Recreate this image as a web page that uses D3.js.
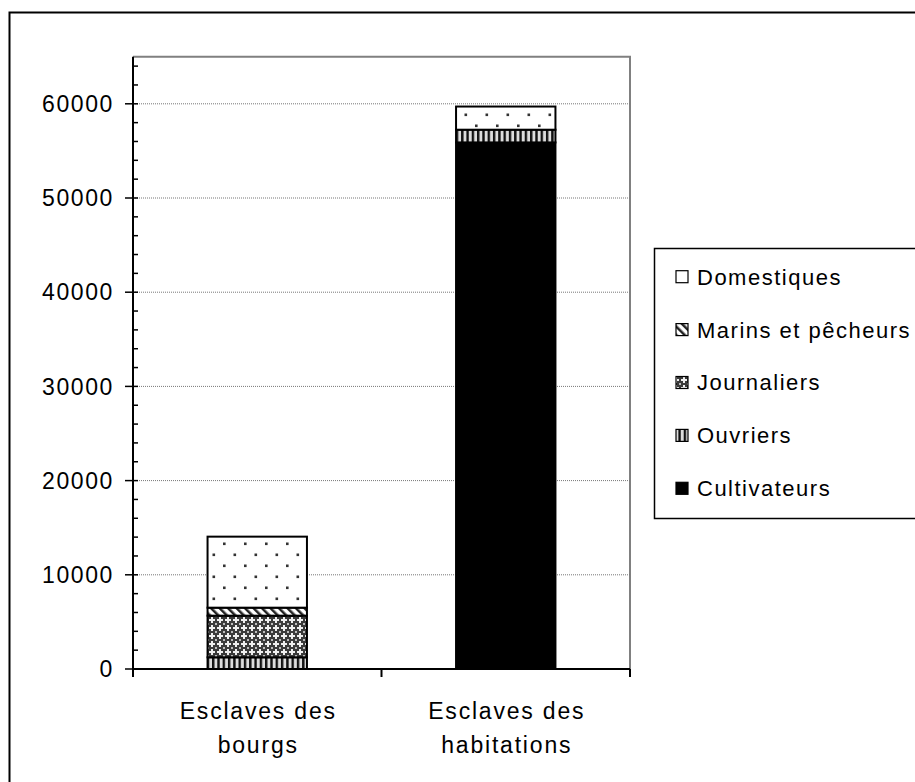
<!DOCTYPE html>
<html><head><meta charset="utf-8">
<script src="https://cdn.jsdelivr.net/npm/d3@7"></script>
<style>body{margin:0;background:#fff}svg{display:block}text{font-family:"Liberation Sans",Arial,sans-serif;fill:#000}</style>
</head><body>
<script>
const categories = [["Esclaves des","bourgs"],["Esclaves des","habitations"]];
const seriesNames = ["Cultivateurs","Ouvriers","Journaliers","Marins et pêcheurs","Domestiques"];
const cultivateurs = [0, 55900];
const ouvriers = [1240, 1350];
const journaliers = [4420, 0];
const marins = [850, 0];
const domestiques = [7540, 2460];
const yTicks = [0,10000,20000,30000,40000,50000,60000];

const W=915,H=782;
const svg=d3.select("body").append("svg").attr("width",W).attr("height",H);
const defs=svg.append("defs");
// patterns
const pDom=defs.append("pattern").attr("id","pDom").attr("patternUnits","userSpaceOnUse").attr("width",21).attr("height",22).attr("x",208).attr("y",0);
pDom.append("rect").attr("width",21).attr("height",22).attr("fill","#fff");
pDom.append("rect").attr("x",4.5).attr("y",3.5).attr("width",2.6).attr("height",2.6).attr("fill","#333");
pDom.append("rect").attr("x",15).attr("y",14.5).attr("width",2.6).attr("height",2.6).attr("fill","#333");
const pMar=defs.append("pattern").attr("id","pMar").attr("patternUnits","userSpaceOnUse").attr("width",6).attr("height",6).attr("patternTransform","rotate(-45)");
pMar.append("rect").attr("width",6).attr("height",6).attr("fill","#fff");
pMar.append("rect").attr("width",2.5).attr("height",6).attr("fill","#222");
const pJou=defs.append("pattern").attr("id","pJou").attr("patternUnits","userSpaceOnUse").attr("width",8).attr("height",8);
pJou.append("rect").attr("width",8).attr("height",8).attr("fill","#3a3a3a");
pJou.append("rect").attr("x",3).attr("y",1).attr("width",2).attr("height",6).attr("fill","#eee");
pJou.append("rect").attr("x",1).attr("y",3).attr("width",6).attr("height",2).attr("fill","#eee");
pJou.append("rect").attr("x",-1).attr("y",-1).attr("width",2).attr("height",2).attr("fill","#bbb");
pJou.append("rect").attr("x",7).attr("y",7).attr("width",2).attr("height",2).attr("fill","#bbb");
pJou.append("rect").attr("x",7).attr("y",-1).attr("width",2).attr("height",2).attr("fill","#bbb");
pJou.append("rect").attr("x",-1).attr("y",7).attr("width",2).attr("height",2).attr("fill","#bbb");
const pOuv=defs.append("pattern").attr("id","pOuv").attr("patternUnits","userSpaceOnUse").attr("width",5.3).attr("height",10);
pOuv.append("rect").attr("width",5.3).attr("height",10).attr("fill","#ddd");
pOuv.append("rect").attr("width",2.4).attr("height",10).attr("fill","#111");
const fills={"Cultivateurs":"#000","Ouvriers":"url(#pOuv)","Journaliers":"url(#pJou)","Marins et pêcheurs":"url(#pMar)","Domestiques":"url(#pDom)"};

// outer border
svg.append("rect").attr("x",9.5).attr("y",12.5).attr("width",W+20).attr("height",H+20).attr("fill","none").attr("stroke","#000").attr("stroke-width",2);

const L=133,R=630,T=56.7,B=669;
const x=d3.scaleBand().domain([0,1]).range([L,R]).paddingInner(0.6).paddingOuter(0.3);
const y=d3.scaleLinear().domain([0,65000]).range([B,T]);

// plot frame
svg.append("path").attr("d",`M${L},${T}H${R}V${B}`).attr("fill","none").attr("stroke","#808080").attr("stroke-width",2);
// gridlines
svg.append("g").selectAll("line").data(yTicks.filter(d=>d>0)).join("line")
 .attr("x1",L).attr("x2",R).attr("y1",d=>y(d)).attr("y2",d=>y(d))
 .attr("stroke","#777").attr("stroke-width",1).attr("stroke-dasharray","1,1");

// stacks
const data=[0,1].map(i=>({i,"Cultivateurs":cultivateurs[i],"Ouvriers":ouvriers[i],"Journaliers":journaliers[i],"Marins et pêcheurs":marins[i],"Domestiques":domestiques[i]}));
const stack=d3.stack().keys(seriesNames)(data);
const g=svg.append("g");
stack.forEach(s=>{
  g.selectAll(null).data(s.filter(d=>d[1]-d[0]>0)).join("rect")
   .attr("x",d=>x(d.data.i)).attr("width",x.bandwidth())
   .attr("y",d=>y(d[1])).attr("height",d=>y(d[0])-y(d[1]))
   .attr("fill",fills[s.key]).attr("stroke","#000").attr("stroke-width",2);
});

// y axis
const minor=d3.range(0,65001,2000);
const ya=svg.append("g");
ya.selectAll("line.mn").data(minor).join("line").attr("x1",L).attr("x2",L+5).attr("y1",d=>y(d)).attr("y2",d=>y(d)).attr("stroke","#000").attr("stroke-width",1.5);
ya.selectAll("line.mj").data(yTicks).join("line").attr("x1",L-8).attr("x2",L).attr("y1",d=>y(d)).attr("y2",d=>y(d)).attr("stroke","#000").attr("stroke-width",1.5);
ya.append("line").attr("x1",L).attr("x2",L).attr("y1",T).attr("y2",B+8).attr("stroke","#000").attr("stroke-width",2);
ya.selectAll("text").data(yTicks).join("text").attr("x",114).attr("y",d=>y(d)).attr("dy","0.36em")
 .attr("text-anchor","end").attr("font-size",23).attr("letter-spacing",1.6).text(d=>d);
// x axis
const xa=svg.append("g");
xa.append("line").attr("x1",L).attr("x2",R).attr("y1",B).attr("y2",B).attr("stroke","#000").attr("stroke-width",2);
[L,(L+R)/2,R].forEach(v=>xa.append("line").attr("x1",v).attr("x2",v).attr("y1",B).attr("y2",B+8).attr("stroke","#000").attr("stroke-width",2));
categories.forEach((c,i)=>{
  const cx=x(i)+x.bandwidth()/2+1;
  c.forEach((t,j)=>xa.append("text").attr("x",cx).attr("y",719+j*34).attr("text-anchor","middle").attr("font-size",23).attr("letter-spacing",1.8).text(t));
});

// legend
svg.append("rect").attr("x",654.5).attr("y",248.5).attr("width",300).attr("height",270).attr("fill","#fff").attr("stroke","#000").attr("stroke-width",1.5);
const legOrder=seriesNames.slice().reverse();
legOrder.forEach((n,k)=>{
  const cy=276.7+k*52.9;
  svg.append("rect").attr("x",676).attr("y",cy-6).attr("width",12).attr("height",12).attr("fill",n==="Domestiques"?"#fff":fills[n]).attr("stroke","#000").attr("stroke-width",1.2);
  svg.append("text").attr("x",697).attr("y",cy).attr("dy","0.36em").attr("font-size",22).attr("letter-spacing",1.5).text(n);
});
</script>
</body></html>
